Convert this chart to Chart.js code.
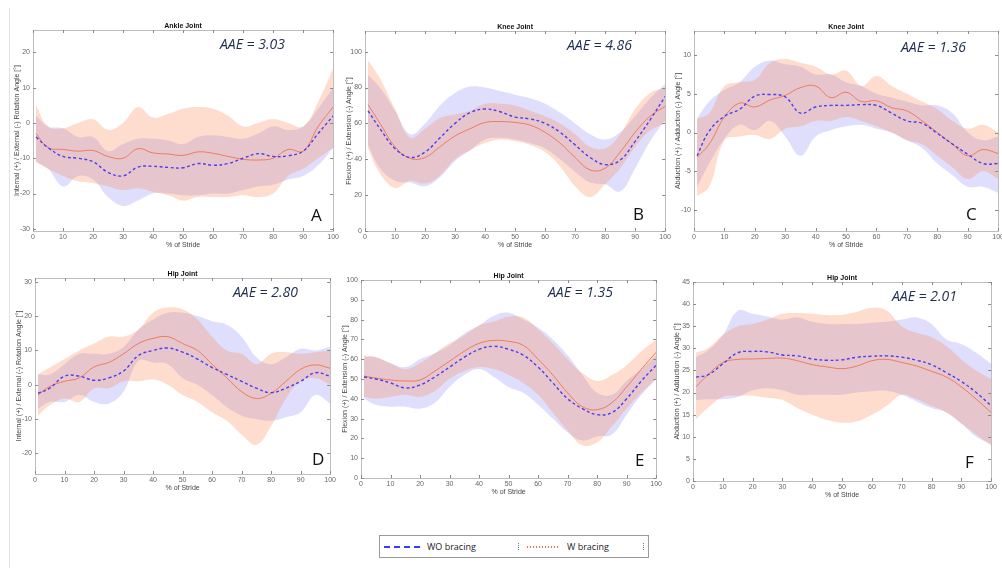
<!DOCTYPE html>
<html>
<head>
<meta charset="utf-8">
<script src="https://cdn.jsdelivr.net/npm/chart.js@4"></script>
<style>
  body { margin: 0; background: #fff; width: 1002px; height: 568px; position: relative; overflow: hidden; font-family: "Open Sans", sans-serif; }
  canvas.panel { position: absolute; }
  .aae { position: absolute; font: italic 14px "Open Sans", sans-serif; line-height: 1; color: #1f2d4d; white-space: nowrap; }
  .letter { position: absolute; font: 17px "Open Sans", sans-serif; line-height: 1; color: #111; }
  #sideLine { position: absolute; left: 9px; top: 8px; width: 1px; height: 560px; background: #e2e2e2; }
  #legend { position: absolute; left: 379px; top: 535px; width: 268px; height: 21px; border: 1px solid #9a9a9a; font: 9px "Open Sans", sans-serif; color: #222; }
  #legend .item { position: absolute; top: 0; line-height: 21px; }
  #legend .sw { position: absolute; top: 10px; height: 1.5px; }
  #legend .tick { position: absolute; top: 7px; height: 7px; border-left: 1px dotted #777; }
</style>
</head>
<body>
<div id="sideLine"></div>

<script>
// % of stride sample points
const stride = [1, 5, 10, 15, 20, 25, 30, 35, 40, 45, 50, 55, 60, 65, 70, 75, 80, 85, 90, 95, 100];
const xTicks = [0, 10, 20, 30, 40, 50, 60, 70, 80, 90, 100];

// A - ankle rotation
const aWoMean = [-4, -7, -9.5, -10, -11, -14, -15, -12.5, -12.3, -12.6, -12.7, -11.5, -12, -11.5, -10, -8.7, -9.5, -9.3, -8, -3, 2];
const aWoUp = [2, -1, -1.5, -4, -4, -8, -6, -4.5, -4.5, -5, -6, -4, -3.5, -4, -4.5, -3, -1, -2, -1, 4, 10];
const aWoLow = [-11, -13, -18, -15, -16, -21, -23.5, -22, -20, -20, -20.5, -20.5, -20, -20, -19, -18, -17.5, -16, -15, -12, -7];
const aWMean = [-3, -7, -7.5, -8, -7.8, -9.5, -10, -7.3, -8.5, -8.8, -9.2, -8.2, -8.6, -9.5, -10.3, -10.5, -10, -7.5, -8, -1, 4.5];
const aWUp = [5, -1, -1.5, 0, 1, -2, 0, 4.5, 1.5, 2.5, 4, 4.5, 4, 2, -1, 0, 1, 0, -1, 6, 15.5];
const aWLow = [-11, -13, -15, -16.5, -17, -18, -19, -18.5, -19.5, -20.5, -22, -21, -21, -21, -20.5, -21, -20, -15, -13, -10, -7];
const aTicks = [-30, -20, -10, 0, 10, 20];

// B - knee flexion
const bWoMean = [67, 57, 46, 41, 44, 52, 60, 66, 68, 66.5, 63.5, 62.5, 60, 55, 48, 41, 37, 39.5, 50, 62, 75];
const bWoUp = [87, 80, 67, 54, 60, 70, 77, 80.5, 80, 78, 76, 74, 71, 66, 60, 54, 51, 55, 64, 74, 82];
const bWoLow = [48, 35, 28, 27, 25, 30, 39, 45, 51, 52, 51, 49, 46, 40, 33, 27, 26, 22, 35, 50, 62];
const bWMean = [70.5, 60, 47, 40.5, 41, 47, 53, 57, 60.5, 61, 60.5, 59, 55, 49, 41, 34, 35, 44, 55, 64, 69.5];
const bWUp = [95, 85, 68, 52, 57, 63, 65, 67, 71, 71, 70, 67, 64, 60, 54, 47, 46, 54, 68, 77, 80];
const bWLow = [46, 32, 24, 28, 26.5, 31, 40, 45, 49, 51, 50, 48, 44, 36, 25, 19, 26, 35, 47, 56, 60];
const bTicks = [0, 20, 40, 60, 80, 100];

// C - knee abduction
const cWoMean = [-3, 0.2, 2.1, 3, 4.7, 4.9, 4.6, 2.5, 3.3, 3.5, 3.5, 3.6, 3.5, 2.5, 1.5, 1.2, -0.1, -1.5, -2.8, -4, -4];
const cWoUp = [1.8, 4, 5.5, 6.5, 8.5, 9.3, 8.8, 8.5, 7.5, 7.5, 6.5, 6, 5, 4.5, 4, 3.5, 3.5, 2.5, 0, -1, -0.5];
const cWoLow = [-7, -4, -0.8, 1, 0.3, 1.5, -0.5, -3, -0.5, 0.3, 0.8, 1, 0.5, 0, -1, -2, -4, -5.5, -7, -7, -7.8];
const cWMean = [-3.2, -1.5, 2, 3.8, 3.3, 4.2, 4.8, 5.8, 6, 4.5, 5.2, 4, 4.1, 3.2, 2.8, 1.5, 0, -1.5, -3, -2.2, -2.7];
const cWUp = [1.8, 2.5, 6, 6.5, 6.8, 9, 9.5, 9, 8.5, 7.5, 8, 6, 7.3, 6, 5, 4, 3, 1.5, 0.5, 1, 0];
const cWLow = [-8.2, -7, -1, -0.5, -0.3, -0.8, 0.5, 0.8, 1.5, 1.5, 2, 1.5, 0.8, 0, -1, -1.5, -3, -4.5, -6, -5, -6];
const cTicks = [-10, -5, 0, 5, 10];

// D - hip rotation
const dWoMean = [-2.5, -1, 2.5, 2.5, 1.3, 2, 4, 8.5, 10, 10.7, 9.5, 7.5, 5, 3, 1, -1, -2.3, -1, 1, 3.5, 2.5];
const dWoUp = [3, 3, 6, 9, 9, 9, 11, 16, 19, 21, 21, 20, 18.5, 17.5, 14, 8, 6, 8, 10.5, 10, 11];
const dWoLow = [-7, -5, -5, -3, -5, -5.5, -2, 7, 6.5, 6, 2, 0, -3, -6.5, -9, -10, -10.5, -9.5, -8, -3, -5.5];
const dWMean = [-3, -0.5, 1, 2, 5.2, 6.5, 9, 12, 13.5, 14, 12, 10, 6, 2, -2, -4, -2.5, 1, 4.5, 5.8, 4.8];
const dWUp = [3, 5, 7.5, 10, 12, 14, 14, 16, 21, 22.5, 22, 19, 14, 10, 9, 6, 9, 9.5, 9, 9.5, 10];
const dWLow = [-9, -6, -4, -5, -1, -1, 1, 1, 1.5, 0, -3, -5, -8, -10.5, -14.5, -17.5, -12, -4, 1, 2, 0];
const dTicks = [-20, -10, 0, 10, 20, 30];

// E - hip flexion
const eWoMean = [51, 50, 48, 45.5, 47, 51, 56, 61, 65, 66.5, 65, 62, 56, 48, 40, 35, 32, 33, 40, 49, 57];
const eWoUp = [61, 61, 58, 56, 60, 63, 67, 73, 77, 82, 83.5, 80, 76, 70, 62, 52, 43, 42, 49, 55, 62];
const eWoLow = [40, 37, 36, 36, 35, 38, 46, 52, 55, 51, 46, 43, 37, 30, 23, 19, 21, 22, 32, 42, 50];
const eWMean = [51.5, 50.5, 49.5, 49, 49.5, 54, 59, 64, 68, 69.5, 69, 67, 60, 52, 43, 36, 34.5, 38, 46, 55, 63.5];
const eWUp = [62, 61, 58, 55, 58, 63, 68, 72, 77, 79, 81.5, 81, 75, 68, 60, 53, 49, 52, 57, 64, 70];
const eWLow = [41, 40, 41, 42, 41, 44, 50, 54, 56, 55, 52, 48, 42, 33, 24, 16.5, 18, 26, 35, 43, 50];
const eTicks = [0, 10, 20, 30, 40, 50, 60, 70, 80, 90, 100];

// F - hip abduction
const fWoMean = [23.5, 24, 26.5, 29, 29.3, 29.2, 28.5, 28.3, 27.6, 27.3, 27.4, 28, 28.2, 28.3, 28, 27.3, 26.3, 24.5, 22.5, 20, 17];
const fWoUp = [28, 29.5, 33, 38.5, 37.8, 37.2, 36.5, 37, 36, 35.5, 35.5, 35.5, 35.8, 36, 36.5, 37, 35.5, 32, 31, 29, 26.5];
const fWoLow = [18.3, 18.5, 18.5, 19, 20.5, 21, 20.5, 19.5, 19.5, 19.5, 19.5, 20, 20.3, 20.4, 19.5, 18, 16.5, 15.5, 13, 10, 8.3];
const fWMean = [21.3, 24, 26.8, 27.5, 27.6, 27.7, 27.8, 27.2, 26.3, 25.8, 25.4, 26, 27.2, 27.5, 26.8, 26, 24.8, 23.5, 21.3, 18.5, 15.5];
const fWUp = [29, 30, 33, 35, 35.5, 36.5, 37.8, 38, 37.8, 37.5, 37.6, 38.3, 39.2, 38.5, 35, 33.5, 32.5, 30.5, 27.5, 25, 23];
const fWLow = [14, 16.5, 19, 19.3, 19.3, 18.8, 18.3, 16.5, 15, 13.8, 13.2, 13.5, 15, 17, 19.5, 18.5, 17, 15.5, 13, 10.5, 8];
const fTicks = [0, 5, 10, 15, 20, 25, 30, 35, 40, 45];

const rotLabel = 'Internal (+) / External (-) Rotation Angle [°]';
const flexLabel = 'Flexion (+) / Extension (-) Angle [°]';
const abdLabel = 'Abduction (+) / Adduction (-) Angle [°]';

// plot box in page px: x0, y0, x1, y1
const panels = [
  { title: 'Ankle Joint', yLabel: rotLabel, box: [33, 30, 335, 231], yMin: -30.6, yMax: 26.3, ticks: aTicks,
    wo: [aWoMean, aWoUp, aWoLow], w: [aWMean, aWUp, aWLow], aae: 'AAE = 3.03', aaePos: [220, 49], letter: 'A', letterPos: [311, 221] },
  { title: 'Knee Joint', yLabel: flexLabel, box: [365, 31, 667, 231], yMin: 0, yMax: 111.5, ticks: bTicks,
    wo: [bWoMean, bWoUp, bWoLow], w: [bWMean, bWUp, bWLow], aae: 'AAE = 4.86', aaePos: [567, 50], letter: 'B', letterPos: [633, 220] },
  { title: 'Knee Joint', yLabel: abdLabel, box: [694, 31, 1000, 231], yMin: -12.7, yMax: 13.1, ticks: cTicks,
    wo: [cWoMean, cWoUp, cWoLow], w: [cWMean, cWUp, cWLow], aae: 'AAE = 1.36', aaePos: [901, 52], letter: 'C', letterPos: [966, 220] },
  { title: 'Hip Joint', yLabel: rotLabel, box: [35, 278, 332, 474], yMin: -26, yMax: 31.1, ticks: dTicks,
    wo: [dWoMean, dWoUp, dWoLow], w: [dWMean, dWUp, dWLow], aae: 'AAE = 2.80', aaePos: [233, 297], letter: 'D', letterPos: [312, 465] },
  { title: 'Hip Joint', yLabel: flexLabel, box: [361, 280, 658, 478], yMin: 0, yMax: 100, ticks: eTicks,
    wo: [eWoMean, eWoUp, eWoLow], w: [eWMean, eWUp, eWLow], aae: 'AAE = 1.35', aaePos: [548, 297], letter: 'E', letterPos: [635, 466] },
  { title: 'Hip Joint', yLabel: abdLabel, box: [693, 282, 993, 481], yMin: 0, yMax: 45, ticks: fTicks,
    wo: [fWoMean, fWoUp, fWoLow], w: [fWMean, fWUp, fWLow], aae: 'AAE = 2.01', aaePos: [892, 301], letter: 'F', letterPos: [965, 468] }
];

const woColor = '#4b3df2';
const wColor = '#f0734f';
const woFill = 'rgba(95, 95, 245, 0.2)';
const wFill = 'rgba(250, 130, 80, 0.28)';

const Y_AXIS_W = 21, X_AXIS_H = 19, PAD_TOP = 12, PAD_RIGHT = 6;

function pts(arr) {
  return stride.map((x, i) => ({ x: x, y: arr[i] }));
}

// MATLAB style box with inward ticks + title above the axes
const boxPlugin = {
  id: 'boxPlugin',
  afterDraw(chart) {
    const ctx = chart.ctx;
    const a = chart.chartArea;
    const xs = chart.scales.x, ys = chart.scales.y;
    ctx.save();
    ctx.strokeStyle = '#bdbdbd';
    ctx.lineWidth = 1;
    ctx.strokeRect(Math.round(a.left) + 0.5, Math.round(a.top) + 0.5, Math.round(a.right - a.left), Math.round(a.bottom - a.top));
    ctx.strokeStyle = '#8a8a8a';
    ctx.beginPath();
    xs.ticks.forEach(t => {
      const px = Math.round(xs.getPixelForValue(t.value)) + 0.5;
      ctx.moveTo(px, a.bottom); ctx.lineTo(px, a.bottom - 3);
      ctx.moveTo(px, a.top); ctx.lineTo(px, a.top + 3);
    });
    ys.ticks.forEach(t => {
      const py = Math.round(ys.getPixelForValue(t.value)) + 0.5;
      ctx.moveTo(a.left, py); ctx.lineTo(a.left + 3, py);
      ctx.moveTo(a.right, py); ctx.lineTo(a.right - 3, py);
    });
    ctx.stroke();
    const title = chart.options.plugins.boxPlugin.title;
    ctx.fillStyle = '#111';
    ctx.font = 'bold 7px "Liberation Sans", Arial, sans-serif';
    ctx.textAlign = 'center';
    ctx.textBaseline = 'middle';
    ctx.fillText(title, (a.left + a.right) / 2, a.top - 4);
    ctx.restore();
  }
};

panels.forEach(p => {
  const [x0, y0, x1, y1] = p.box;
  const cv = document.createElement('canvas');
  cv.className = 'panel';
  const w = (x1 - x0) + Y_AXIS_W + PAD_RIGHT;
  const h = (y1 - y0) + PAD_TOP + X_AXIS_H;
  cv.width = w; cv.height = h;
  cv.style.left = (x0 - Y_AXIS_W) + 'px';
  cv.style.top = (y0 - PAD_TOP) + 'px';
  cv.style.width = w + 'px'; cv.style.height = h + 'px';
  document.body.appendChild(cv);

  const tickFont = { family: '"Liberation Sans", Arial, sans-serif', size: 7 };

  new Chart(cv.getContext('2d'), {
    type: 'line',
    data: {
      datasets: [
        { label: 'WO bracing', data: pts(p.wo[0]), borderColor: woColor, borderWidth: 1.4, borderDash: [3, 2.5], pointRadius: 0, tension: 0.4, fill: false },
        { label: 'W bracing', data: pts(p.w[0]), borderColor: wColor, borderWidth: 0.9, pointRadius: 0, tension: 0.4, fill: false },
        { data: pts(p.w[1]), borderWidth: 0, pointRadius: 0, tension: 0.4, backgroundColor: wFill, fill: '+1' },
        { data: pts(p.w[2]), borderWidth: 0, pointRadius: 0, tension: 0.4, fill: false },
        { data: pts(p.wo[1]), borderWidth: 0, pointRadius: 0, tension: 0.4, backgroundColor: woFill, fill: '+1' },
        { data: pts(p.wo[2]), borderWidth: 0, pointRadius: 0, tension: 0.4, fill: false }
      ]
    },
    options: {
      responsive: false,
      animation: false,
      layout: { padding: { top: PAD_TOP, right: PAD_RIGHT, left: 0, bottom: 0 } },
      plugins: {
        legend: { display: false },
        tooltip: { enabled: false },
        boxPlugin: { title: p.title }
      },
      scales: {
        x: {
          type: 'linear', min: 0, max: 100,
          grid: { display: false, drawTicks: false },
          border: { display: false },
          afterBuildTicks: s => { s.ticks = xTicks.map(v => ({ value: v })); },
          afterFit: s => { s.height = X_AXIS_H; },
          ticks: { font: tickFont, color: '#666', padding: 2, maxRotation: 0, autoSkip: false },
          title: { display: true, text: '% of Stride', font: tickFont, color: '#444', padding: { top: 0, bottom: 1 } }
        },
        y: {
          min: p.yMin, max: p.yMax,
          grid: { display: false, drawTicks: false },
          border: { display: false },
          afterBuildTicks: s => { s.ticks = p.ticks.map(v => ({ value: v })); },
          afterFit: s => { s.width = Y_AXIS_W; },
          ticks: { font: tickFont, color: '#666', padding: 3, autoSkip: false },
          title: { display: true, text: p.yLabel, font: tickFont, color: '#444', padding: { top: 1, bottom: 0 } }
        }
      }
    },
    plugins: [boxPlugin]
  });

  const aae = document.createElement('div');
  aae.className = 'aae';
  aae.textContent = p.aae;
  aae.style.left = p.aaePos[0] + 'px';
  aae.style.top = (p.aaePos[1] - 12.4) + 'px';
  document.body.appendChild(aae);

  const letter = document.createElement('div');
  letter.className = 'letter';
  letter.textContent = p.letter;
  letter.style.left = p.letterPos[0] + 'px';
  letter.style.top = (p.letterPos[1] - 15) + 'px';
  document.body.appendChild(letter);
});
</script>

<div id="legend">
  <div class="sw" style="left: 4px; width: 36px; background: repeating-linear-gradient(90deg, #3340f0 0 6px, transparent 6px 10px);"></div>
  <div class="item" style="left: 47px;">WO bracing</div>
  <div class="tick" style="left: 138px;"></div>
  <div class="sw" style="left: 147px; width: 33px; background: repeating-linear-gradient(90deg, #f07040 0 1.5px, transparent 1.5px 3px);"></div>
  <div class="item" style="left: 187px;">W bracing</div>
  <div class="tick" style="left: 263px;"></div>
</div>
</body>
</html>
